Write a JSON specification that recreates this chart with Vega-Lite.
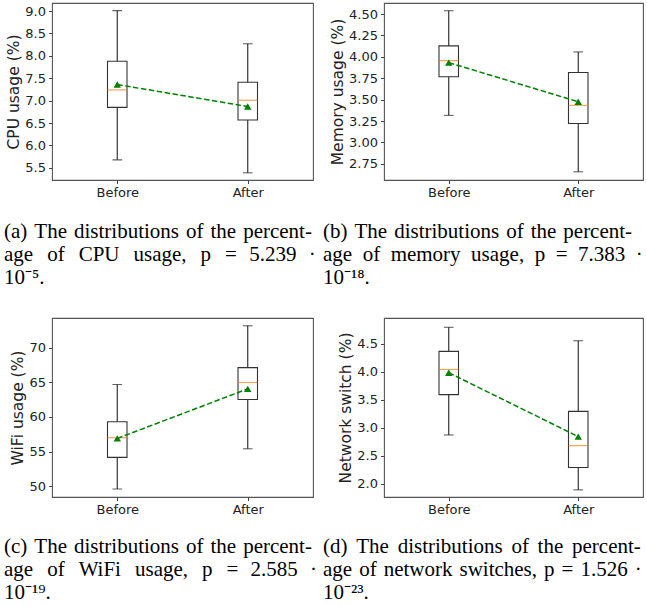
{
  "$schema": "https://vega.github.io/schema/vega-lite/v6.json",
  "padding": {"left": 3, "top": 2, "right": 0, "bottom": 0},
  "background": "white",
  "bounds": "flush",
  "columns": 2,
  "spacing": {"row": 138, "column": 71},
  "config": {
    "view": {"stroke": "#555", "strokeWidth": 1.1},
    "axis": {"labelFont": "DejaVu Sans", "titleFont": "DejaVu Sans", "labelFontSize": 13, "titleFontSize": 15.5, "titleFontWeight": "normal", "labelColor": "#222", "titleColor": "#222", "tickColor": "#444", "tickSize": 3.5, "labelPadding": 3, "titlePadding": 3, "domain": false, "grid": false, "labelOverlap": false},
    "axisY": {"tickCount": 20},
    "title": {"font": "Liberation Serif", "fontSize": 21, "fontWeight": "normal", "orient": "bottom", "anchor": "start", "frame": "group", "lineHeight": 23, "color": "black", "offset": 19}
  },
  "datasets": {
    "cpu": [
      {"group": "Before", "lower": 5.68, "q1": 6.85, "median": 7.24, "q3": 7.88, "upper": 9.01, "mean": 7.36},
      {"group": "After", "lower": 5.39, "q1": 6.57, "median": 7.01, "q3": 7.41, "upper": 8.27, "mean": 6.87}
    ],
    "mem": [
      {"group": "Before", "lower": 3.316, "q1": 3.767, "median": 3.956, "q3": 4.128, "upper": 4.54, "mean": 3.933},
      {"group": "After", "lower": 2.656, "q1": 3.22, "median": 3.433, "q3": 3.817, "upper": 4.058, "mean": 3.475}
    ],
    "wifi": [
      {"group": "Before", "lower": 49.6, "q1": 54.16, "median": 57.0, "q3": 59.3, "upper": 64.67, "mean": 56.9},
      {"group": "After", "lower": 55.4, "q1": 62.5, "median": 64.96, "q3": 67.1, "upper": 73.14, "mean": 64.04}
    ],
    "net": [
      {"group": "Before", "lower": 2.87, "q1": 3.59, "median": 4.037, "q3": 4.36, "upper": 4.79, "mean": 3.98},
      {"group": "After", "lower": 1.89, "q1": 2.29, "median": 2.68, "q3": 3.29, "upper": 4.55, "mean": 2.84}
    ]
  },
  "concat": [
    {
      "width": 261, "height": 177,
      "title": {"text": ["(a)\u2004The\u2004distributions\u2004of\u2004the\u2004percent-", "age\u2002\u2006of\u2002\u2006CPU\u2002\u2006usage,\u2002\u2006p\u2002\u2006=\u2002\u200A5.239\u2002\u200A·", "10⁻⁵."], "dx": -48, "offset": 21},
      "data": {"name": "cpu"},
      "encoding": {
        "x": {"field": "group", "type": "nominal", "sort": ["Before", "After"], "scale": {"type": "point", "padding": 0.5}, "axis": {"title": null, "labelAngle": 0}}
      },
      "layer": [
        {"mark": {"type": "rule", "color": "#222", "strokeWidth": 1.1}, "encoding": {"y": {"field": "lower", "type": "quantitative", "scale": {"domain": [5.23, 9.18], "nice": false, "zero": false}, "axis": {"title": "CPU usage (%)", "values": [5.5, 6.0, 6.5, 7.0, 7.5, 8.0, 8.5, 9.0], "format": ".1f", "tickCount": 20}}, "y2": {"field": "q1"}}},
        {"mark": {"type": "rule", "color": "#222", "strokeWidth": 1.1}, "encoding": {"y": {"field": "q3", "type": "quantitative"}, "y2": {"field": "upper"}}},
        {"mark": {"type": "tick", "color": "#222", "thickness": 1.1, "size": 9.7}, "encoding": {"y": {"field": "lower", "type": "quantitative"}}},
        {"mark": {"type": "tick", "color": "#222", "thickness": 1.1, "size": 9.7}, "encoding": {"y": {"field": "upper", "type": "quantitative"}}},
        {"mark": {"type": "bar", "size": 19.5, "fill": "white", "fillOpacity": 0, "stroke": "#333", "strokeWidth": 1.1}, "encoding": {"y": {"field": "q1", "type": "quantitative"}, "y2": {"field": "q3"}}},
        {"mark": {"type": "tick", "color": "#ff7f0e", "thickness": 1.2, "size": 19.5}, "encoding": {"y": {"field": "median", "type": "quantitative"}}},
        {"mark": {"type": "line", "color": "#008000", "strokeWidth": 1.5, "strokeDash": [5.5, 2.5]}, "encoding": {"y": {"field": "mean", "type": "quantitative"}}},
        {"mark": {"type": "point", "shape": "triangle-up", "filled": true, "color": "#008000", "opacity": 1, "size": 55}, "encoding": {"y": {"field": "mean", "type": "quantitative"}}}
      ]
    },
    {
      "width": 259, "height": 177,
      "title": {"text": ["(b)\u2004The\u2004distributions\u2004of\u2004the\u2004percent-", "age\u2004\u2006of\u2004\u2006memory\u2004\u2006usage,\u2004\u2006p\u2004\u2006=\u2004\u20067.383\u2004\u2006·", "10⁻¹⁸."], "dx": -61, "offset": 21},
      "data": {"name": "mem"},
      "encoding": {
        "x": {"field": "group", "type": "nominal", "sort": ["Before", "After"], "scale": {"type": "point", "padding": 0.5}, "axis": {"title": null, "labelAngle": 0}}
      },
      "layer": [
        {"mark": {"type": "rule", "color": "#222", "strokeWidth": 1.1}, "encoding": {"y": {"field": "lower", "type": "quantitative", "scale": {"domain": [2.56, 4.63], "nice": false, "zero": false}, "axis": {"title": "Memory usage (%)", "values": [2.75, 3.0, 3.25, 3.5, 3.75, 4.0, 4.25, 4.5], "format": ".2f", "tickCount": 20}}, "y2": {"field": "q1"}}},
        {"mark": {"type": "rule", "color": "#222", "strokeWidth": 1.1}, "encoding": {"y": {"field": "q3", "type": "quantitative"}, "y2": {"field": "upper"}}},
        {"mark": {"type": "tick", "color": "#222", "thickness": 1.1, "size": 9.7}, "encoding": {"y": {"field": "lower", "type": "quantitative"}}},
        {"mark": {"type": "tick", "color": "#222", "thickness": 1.1, "size": 9.7}, "encoding": {"y": {"field": "upper", "type": "quantitative"}}},
        {"mark": {"type": "bar", "size": 19.5, "fill": "white", "fillOpacity": 0, "stroke": "#333", "strokeWidth": 1.1}, "encoding": {"y": {"field": "q1", "type": "quantitative"}, "y2": {"field": "q3"}}},
        {"mark": {"type": "tick", "color": "#ff7f0e", "thickness": 1.2, "size": 19.5}, "encoding": {"y": {"field": "median", "type": "quantitative"}}},
        {"mark": {"type": "line", "color": "#008000", "strokeWidth": 1.5, "strokeDash": [5.5, 2.5]}, "encoding": {"y": {"field": "mean", "type": "quantitative"}}},
        {"mark": {"type": "point", "shape": "triangle-up", "filled": true, "color": "#008000", "opacity": 1, "size": 55}, "encoding": {"y": {"field": "mean", "type": "quantitative"}}}
      ]
    },
    {
      "width": 261, "height": 179,
      "title": {"text": ["(c)\u2004The\u2004distributions\u2004of\u2004the\u2004percent-", "age\u2002\u2006of\u2002\u2006WiFi\u2002\u2006usage,\u2002\u2006p\u2002\u2006=\u2002\u200A2.585\u2002\u200A·", "10⁻¹⁹."], "dx": -48},
      "data": {"name": "wifi"},
      "encoding": {
        "x": {"field": "group", "type": "nominal", "sort": ["Before", "After"], "scale": {"type": "point", "padding": 0.5}, "axis": {"title": null, "labelAngle": 0}}
      },
      "layer": [
        {"mark": {"type": "rule", "color": "#222", "strokeWidth": 1.1}, "encoding": {"y": {"field": "lower", "type": "quantitative", "scale": {"domain": [48.45, 74.26], "nice": false, "zero": false}, "axis": {"title": "WiFi usage (%)", "values": [50, 55, 60, 65, 70], "format": "d", "tickCount": 20}}, "y2": {"field": "q1"}}},
        {"mark": {"type": "rule", "color": "#222", "strokeWidth": 1.1}, "encoding": {"y": {"field": "q3", "type": "quantitative"}, "y2": {"field": "upper"}}},
        {"mark": {"type": "tick", "color": "#222", "thickness": 1.1, "size": 9.7}, "encoding": {"y": {"field": "lower", "type": "quantitative"}}},
        {"mark": {"type": "tick", "color": "#222", "thickness": 1.1, "size": 9.7}, "encoding": {"y": {"field": "upper", "type": "quantitative"}}},
        {"mark": {"type": "bar", "size": 19.5, "fill": "white", "fillOpacity": 0, "stroke": "#333", "strokeWidth": 1.1}, "encoding": {"y": {"field": "q1", "type": "quantitative"}, "y2": {"field": "q3"}}},
        {"mark": {"type": "tick", "color": "#ff7f0e", "thickness": 1.2, "size": 19.5}, "encoding": {"y": {"field": "median", "type": "quantitative"}}},
        {"mark": {"type": "line", "color": "#008000", "strokeWidth": 1.5, "strokeDash": [5.5, 2.5]}, "encoding": {"y": {"field": "mean", "type": "quantitative"}}},
        {"mark": {"type": "point", "shape": "triangle-up", "filled": true, "color": "#008000", "opacity": 1, "size": 55}, "encoding": {"y": {"field": "mean", "type": "quantitative"}}}
      ]
    },
    {
      "width": 259, "height": 179,
      "title": {"text": ["(d) \u2006The \u2006distributions \u2006of \u2006the \u2006percent-", "age\u2004of\u2004network\u2004switches,\u2004p\u2004=\u20041.526\u2004·", "10⁻²³."], "dx": -61},
      "data": {"name": "net"},
      "encoding": {
        "x": {"field": "group", "type": "nominal", "sort": ["Before", "After"], "scale": {"type": "point", "padding": 0.5}, "axis": {"title": null, "labelAngle": 0}}
      },
      "layer": [
        {"mark": {"type": "rule", "color": "#222", "strokeWidth": 1.1}, "encoding": {"y": {"field": "lower", "type": "quantitative", "scale": {"domain": [1.763, 4.956], "nice": false, "zero": false}, "axis": {"title": "Network switch (%)", "values": [2.0, 2.5, 3.0, 3.5, 4.0, 4.5], "format": ".1f", "tickCount": 20}}, "y2": {"field": "q1"}}},
        {"mark": {"type": "rule", "color": "#222", "strokeWidth": 1.1}, "encoding": {"y": {"field": "q3", "type": "quantitative"}, "y2": {"field": "upper"}}},
        {"mark": {"type": "tick", "color": "#222", "thickness": 1.1, "size": 9.7}, "encoding": {"y": {"field": "lower", "type": "quantitative"}}},
        {"mark": {"type": "tick", "color": "#222", "thickness": 1.1, "size": 9.7}, "encoding": {"y": {"field": "upper", "type": "quantitative"}}},
        {"mark": {"type": "bar", "size": 19.5, "fill": "white", "fillOpacity": 0, "stroke": "#333", "strokeWidth": 1.1}, "encoding": {"y": {"field": "q1", "type": "quantitative"}, "y2": {"field": "q3"}}},
        {"mark": {"type": "tick", "color": "#ff7f0e", "thickness": 1.2, "size": 19.5}, "encoding": {"y": {"field": "median", "type": "quantitative"}}},
        {"mark": {"type": "line", "color": "#008000", "strokeWidth": 1.5, "strokeDash": [5.5, 2.5]}, "encoding": {"y": {"field": "mean", "type": "quantitative"}}},
        {"mark": {"type": "point", "shape": "triangle-up", "filled": true, "color": "#008000", "opacity": 1, "size": 55}, "encoding": {"y": {"field": "mean", "type": "quantitative"}}}
      ]
    }
  ]
}
